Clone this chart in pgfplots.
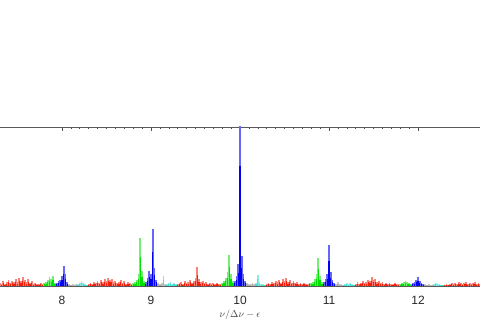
\documentclass[border=0pt]{standalone}
\usepackage{fontspec}
\setmainfont{Liberation Sans}
\usepackage{pgfplots}
\pgfplotsset{compat=1.18}
\usepackage{pgfplotstable}
\definecolor{cred}{RGB}{245,30,10}
\definecolor{cgreen}{RGB}{0,225,0}
\definecolor{cblue}{RGB}{0,0,245}
\definecolor{ccyan}{RGB}{64,224,208}
\definecolor{cgray}{RGB}{175,175,175}
\pgfplotstableread{
x y
7.30 3
7.32 2
7.34 5
7.36 2
7.38 4
7.40 6
7.42 3
7.44 5
7.46 4
7.48 7
7.50 4
7.52 8
7.54 5
7.56 9
7.58 6
7.60 4
7.62 7
7.64 3
7.66 5
7.68 2
7.70 3
7.72 2
7.74 2
7.76 3
7.78 2
8.30 2
8.32 3
8.34 2
8.36 4
8.38 3
8.40 5
8.42 3
8.44 6
8.46 4
8.48 7
8.50 5
8.52 8
8.54 6
8.56 7
8.58 4
8.60 5
8.62 3
8.64 4
8.66 6
8.68 3
8.70 5
8.72 2
8.74 4
8.76 3
8.78 2
9.30 2
9.32 3
9.34 4
9.36 2
9.38 5
9.40 3
9.42 4
9.44 6
9.46 3
9.48 5
9.50 8
9.52 19
9.54 7
9.56 4
9.58 5
9.60 3
9.62 4
9.64 2
9.66 3
9.68 2
9.70 3
9.72 2
9.74 3
9.76 2
9.78 2
10.30 2
10.32 3
10.34 2
10.36 4
10.38 3
10.40 5
10.42 4
10.44 6
10.46 3
10.48 7
10.50 5
10.52 8
10.54 4
10.56 6
10.58 3
10.60 5
10.62 3
10.64 4
10.66 2
10.68 3
10.70 2
10.72 3
10.74 2
10.76 2
10.78 3
11.30 2
11.32 4
11.34 2
11.36 3
11.38 5
11.40 3
11.42 4
11.44 6
11.46 5
11.48 9
11.50 6
11.52 7
11.54 4
11.56 5
11.58 3
11.60 4
11.62 2
11.64 3
11.66 2
11.68 3
11.70 2
11.72 2
11.74 3
11.76 2
11.78 2
12.30 1
12.32 2
12.34 1
12.36 2
12.38 3
12.40 2
12.42 3
12.44 2
12.46 4
12.48 3
12.50 2
12.52 3
12.54 4
12.56 2
12.58 3
12.60 2
12.62 3
12.64 4
12.66 2
12.68 3
12.70 2
}\reddata
\pgfplotstableread{
x y
7.80 3
7.82 4
7.84 6
7.86 9
7.88 7
7.90 10
7.92 3
8.80 3
8.82 4
8.84 6
8.86 12
8.88 48
8.90 15
8.92 5
9.80 3
9.82 5
9.84 8
9.86 14
9.88 31
9.90 12
9.92 5
10.80 3
10.82 4
10.84 7
10.86 12
10.88 28
10.90 10
10.92 4
11.80 2
11.82 3
11.84 4
11.86 5
11.88 4
11.90 3
11.92 2
}\greendata
\pgfplotstableread{
x y
7.94 3
7.96 5
7.98 6
8.00 10
8.02 20
8.04 12
8.06 4
8.94 4
8.96 8
8.98 15
9.00 12
9.02 57
9.04 18
9.06 6
9.94 5
9.96 10
9.98 22
10.00 200
10.02 30
10.04 12
10.06 5
10.94 4
10.96 7
10.98 12
11.00 41
11.02 14
11.04 6
11.06 3
11.94 3
11.96 4
11.98 6
12.00 9
12.02 5
12.04 3
12.06 2
}\bluedata
\pgfplotstableread{
x y
8.08 2
8.10 1
8.12 2
8.14 1
8.16 2
9.08 3
9.10 2
9.12 3
9.14 10
9.16 2
10.08 3
10.10 2
10.12 2
10.14 3
10.16 2
11.08 2
11.10 4
11.12 2
11.14 2
11.16 1
12.08 2
12.10 1
12.12 2
12.14 1
12.16 1
}\graydata
\pgfplotstableread{
x y
8.18 2
8.20 3
8.22 5
8.24 3
8.26 2
8.28 1
9.18 2
9.20 3
9.22 4
9.24 2
9.26 3
9.28 2
10.18 3
10.20 11
10.22 4
10.24 2
10.26 2
10.28 1
11.18 2
11.20 3
11.22 2
11.24 3
11.26 2
11.28 1
12.18 2
12.20 3
12.22 2
12.24 2
12.26 1
12.28 1
}\cyandata
\pgfplotstableread{
x y
10.00 86
}\bluecore
\begin{document}
\begin{tikzpicture}[x=1pt,y=1pt]
\path[use as bounding box] (0,0) rectangle (480,319);
\begin{axis}[
  at={(0,33)}, anchor=south west,
  scale only axis, width=480pt, height=159pt,
  xmin=7.3034, xmax=12.6966, ymin=0, ymax=159,
  separate axis lines,
  y axis line style={draw=none},
  x axis line style={gray!70!black, line width=0.7pt},
  ytick=\empty,
  xtick={8,9,10,11,12},
  minor x tick num=9,
  xtick pos=upper, xticklabel pos=lower,
  tick align=inside,
  major tick length=4.5pt, minor tick length=2.5pt,
  every tick/.style={black!70, line width=0.6pt},
  /pgf/number format/assume math mode=true,
  xticklabel style={font=\fontsize{12}{14}\selectfont, text=black!85, yshift=-7pt},
  xlabel={$\nu/\Delta\nu-\epsilon$},
  xlabel style={font=\fontsize{10}{12}\selectfont, text=black!75, at={(axis description cs:0.5,0)}, anchor=north, yshift=-20pt},
]
\addplot[ycomb, cred!55, line width=1.8pt, no marks] table {\reddata};
\addplot[ycomb, cgreen!55, line width=1.8pt, no marks] table {\greendata};
\addplot[ycomb, cblue!60, line width=1.8pt, no marks] table {\bluedata};
\addplot[ycomb, cgray!70, line width=1.8pt, no marks] table {\graydata};
\addplot[ycomb, ccyan!60, line width=1.8pt, no marks] table {\cyandata};
\addplot[ycomb, cred, line width=1.3pt, no marks] table[y expr=0.6*\thisrow{y}] {\reddata};
\addplot[ycomb, cgreen, line width=1.3pt, no marks] table[y expr=0.6*\thisrow{y}] {\greendata};
\addplot[ycomb, cblue, line width=1.3pt, no marks] table[y expr=0.6*\thisrow{y}] {\bluedata};
\addplot[ycomb, cgray, line width=1.3pt, no marks] table[y expr=0.6*\thisrow{y}] {\graydata};
\addplot[ycomb, ccyan, line width=1.3pt, no marks] table[y expr=0.6*\thisrow{y}] {\cyandata};
\addplot[ycomb, cblue, line width=1.6pt, no marks] table {\bluecore};
\end{axis}
\end{tikzpicture}
\end{document}
